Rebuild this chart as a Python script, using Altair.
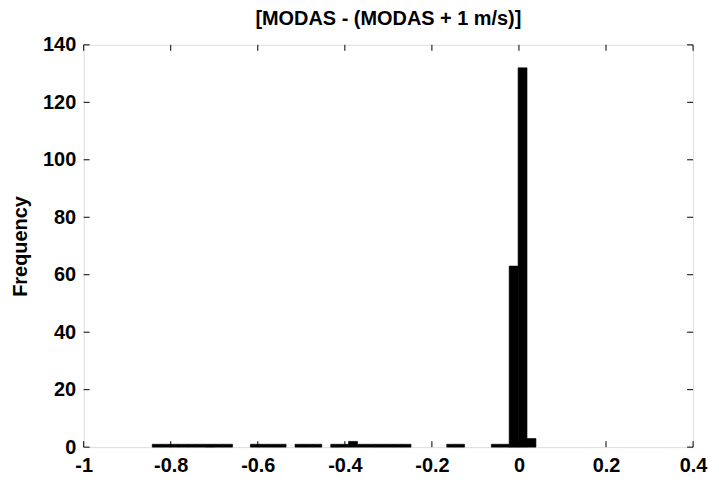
import altair as alt
import pandas as pd

# Histogram bins (centres) and counts
bin_centers = [
    -0.83225, -0.81175, -0.79125, -0.77075, -0.75025, -0.72975, -0.70925,
    -0.68875, -0.66825, -0.64775, -0.62725, -0.60675, -0.58625, -0.56575,
    -0.54525, -0.52475, -0.50425, -0.48375, -0.46325, -0.44275, -0.42225,
    -0.40175, -0.38125, -0.36075, -0.34025, -0.31975, -0.29925, -0.27875,
    -0.25825, -0.23775, -0.21725, -0.19675, -0.17625, -0.15575, -0.13525,
    -0.11475, -0.09425, -0.07375, -0.05325, -0.03275, -0.01225, 0.00825,
    0.02875,
]
counts = [
    1, 1, 1, 1, 1, 1, 1,
    1, 1, 0, 0, 1, 1, 1,
    1, 0, 1, 1, 1, 0, 1,
    1, 2, 1, 1, 1, 1, 1,
    1, 0, 0, 0, 0, 1, 1,
    0, 0, 0, 1, 1, 63, 132,
    3,
]
bin_width = 0.0205

x_ticks = [-1, -0.8, -0.6, -0.4, -0.2, 0, 0.2, 0.4]
y_ticks = [0, 20, 40, 60, 80, 100, 120, 140]

title_text = "[MODAS - (MODAS + 1 m/s)]"
y_title = "Frequency"

W, H = 612, 404
FONT = "Liberation Sans"
FS = 20

df = pd.DataFrame({
    "start": [c - bin_width / 2 for c in bin_centers],
    "end": [c + bin_width / 2 for c in bin_centers],
    "count": counts,
})
df = df[df["count"] > 0]

xs = alt.Scale(domain=[-1, 0.4], nice=False, zero=False)
ys = alt.Scale(domain=[0, 140], nice=False)

bars = alt.Chart(df).mark_bar(color="black", stroke="black", strokeWidth=0.6).encode(
    x=alt.X("start:Q", scale=xs,
            axis=alt.Axis(values=x_ticks, ticks=False, domain=False, grid=False,
                          labelExpr="'' + datum.value", labelFont=FONT,
                          labelFontSize=FS, labelFontWeight="bold",
                          labelColor="black", labelPadding=8,
                          labelFlush=False, title=None)),
    x2="end:Q",
    y=alt.Y("count:Q", scale=ys,
            axis=alt.Axis(values=y_ticks, ticks=False, domain=False, grid=False,
                          labelExpr="'' + datum.value", labelFont=FONT,
                          labelFontSize=FS, labelFontWeight="bold",
                          labelColor="black", labelPadding=8,
                          title=y_title, titleFont=FONT, titleFontSize=FS,
                          titleFontWeight="bold", titleColor="black",
                          titlePadding=12)),
    y2=alt.datum(0),
)

xt = pd.DataFrame({"v": x_ticks})
yt = pd.DataFrame({"v": y_ticks})

bottom_ticks = alt.Chart(xt).mark_rule(color="black").encode(
    x=alt.X("v:Q", scale=xs), y=alt.value(H), y2=alt.value(H - 6))
top_ticks = alt.Chart(xt).mark_rule(color="black").encode(
    x=alt.X("v:Q", scale=xs), y=alt.value(0), y2=alt.value(6))
left_ticks = alt.Chart(yt).mark_rule(color="black").encode(
    y=alt.Y("v:Q", scale=ys), x=alt.value(0), x2=alt.value(6))
right_ticks = alt.Chart(yt).mark_rule(color="black").encode(
    y=alt.Y("v:Q", scale=ys), x=alt.value(W), x2=alt.value(W - 6))

chart = alt.layer(bars, bottom_ticks, top_ticks, left_ticks, right_ticks).properties(
    width=W, height=H,
    title=alt.TitleParams(title_text, font=FONT, fontSize=FS, fontWeight="bold",
                          color="black", anchor="middle", offset=6),
    autosize=alt.AutoSizeParams(type="none"),
    padding={"left": 76, "top": 36, "right": 18, "bottom": 30},
).configure_view(stroke="black", strokeWidth=1.2).configure(background="white")

chart.save("out.html", embed_options={"renderer": "svg", "actions": False})
